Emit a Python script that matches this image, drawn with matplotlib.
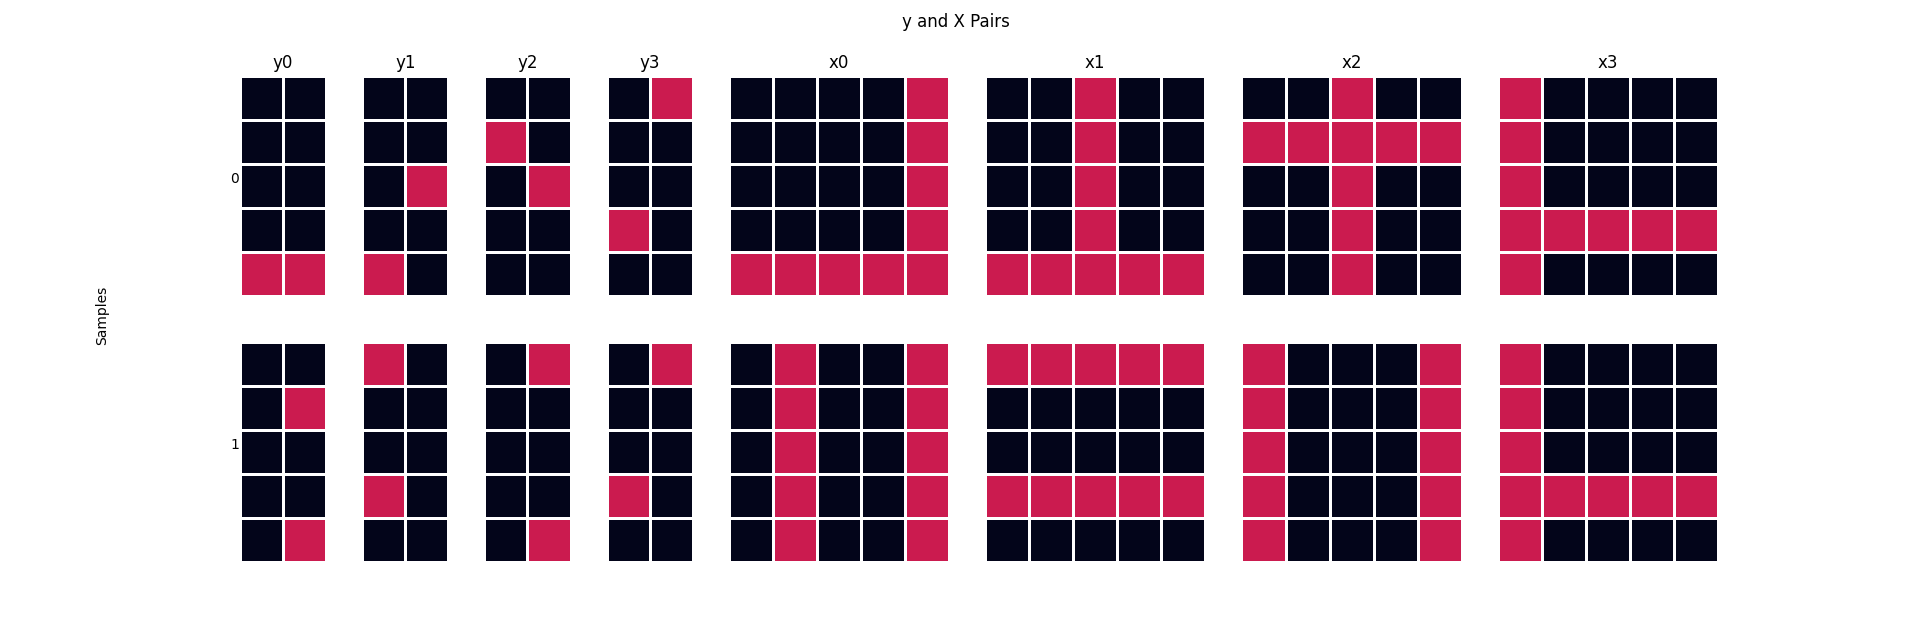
import matplotlib
matplotlib.use("Agg")
import matplotlib.pyplot as plt
from matplotlib.colors import ListedColormap
import numpy as np

# two samples, each with four y targets (5x2) and four x inputs (5x5)
y_names = ["y0", "y1", "y2", "y3"]
x_names = ["x0", "x1", "x2", "x3"]

y_sample0 = [
    [[0, 0], [0, 0], [0, 0], [0, 0], [1, 1]],
    [[0, 0], [0, 0], [0, 1], [0, 0], [1, 0]],
    [[0, 0], [1, 0], [0, 1], [0, 0], [0, 0]],
    [[0, 1], [0, 0], [0, 0], [1, 0], [0, 0]],
]
x_sample0 = [
    [[0, 0, 0, 0, 1], [0, 0, 0, 0, 1], [0, 0, 0, 0, 1], [0, 0, 0, 0, 1], [1, 1, 1, 1, 1]],
    [[0, 0, 1, 0, 0], [0, 0, 1, 0, 0], [0, 0, 1, 0, 0], [0, 0, 1, 0, 0], [1, 1, 1, 1, 1]],
    [[0, 0, 1, 0, 0], [1, 1, 1, 1, 1], [0, 0, 1, 0, 0], [0, 0, 1, 0, 0], [0, 0, 1, 0, 0]],
    [[1, 0, 0, 0, 0], [1, 0, 0, 0, 0], [1, 0, 0, 0, 0], [1, 1, 1, 1, 1], [1, 0, 0, 0, 0]],
]
y_sample1 = [
    [[0, 0], [0, 1], [0, 0], [0, 0], [0, 1]],
    [[1, 0], [0, 0], [0, 0], [1, 0], [0, 0]],
    [[0, 1], [0, 0], [0, 0], [0, 0], [0, 1]],
    [[0, 1], [0, 0], [0, 0], [1, 0], [0, 0]],
]
x_sample1 = [
    [[0, 1, 0, 0, 1], [0, 1, 0, 0, 1], [0, 1, 0, 0, 1], [0, 1, 0, 0, 1], [0, 1, 0, 0, 1]],
    [[1, 1, 1, 1, 1], [0, 0, 0, 0, 0], [0, 0, 0, 0, 0], [1, 1, 1, 1, 1], [0, 0, 0, 0, 0]],
    [[1, 0, 0, 0, 1], [1, 0, 0, 0, 1], [1, 0, 0, 0, 1], [1, 0, 0, 0, 1], [1, 0, 0, 0, 1]],
    [[1, 0, 0, 0, 0], [1, 0, 0, 0, 0], [1, 0, 0, 0, 0], [1, 1, 1, 1, 1], [1, 0, 0, 0, 0]],
]

samples = [(y_sample0, x_sample0), (y_sample1, x_sample1)]
cmap = ListedColormap(["#03051A", "#CB1B4F"])


def main():
    fig = plt.figure(figsize=(19.11, 6.31), dpi=100)
    # y panels come out a bit narrower than 2/5 of the x panels
    gs = fig.add_gridspec(2, 8, width_ratios=[86, 86, 86, 86, 220, 220, 220, 220],
                          left=0.1256, right=0.8990, top=0.879, bottom=0.1100,
                          wspace=0.236, hspace=0.207)
    names = y_names + x_names
    for r, (ys, xs) in enumerate(samples):
        grids = ys + xs
        for c, g in enumerate(grids):
            ax = fig.add_subplot(gs[r, c])
            ax.pcolormesh(np.array(g), cmap=cmap, vmin=0, vmax=1,
                          edgecolors="white", linewidth=2)
            ax.invert_yaxis()
            ax.set_xticks([])
            ax.set_yticks([])
            for s in ax.spines.values():
                s.set_visible(False)
            if r == 0:
                ax.set_title(names[c])
            if c == 0:
                ax.set_ylabel(str(r), rotation=0)
    fig.suptitle("y and X Pairs")
    fig.text(0.05, 0.5, "Samples", rotation="vertical", va="center")
    plt.savefig("out.png")


if __name__ == "__main__":
    main()
